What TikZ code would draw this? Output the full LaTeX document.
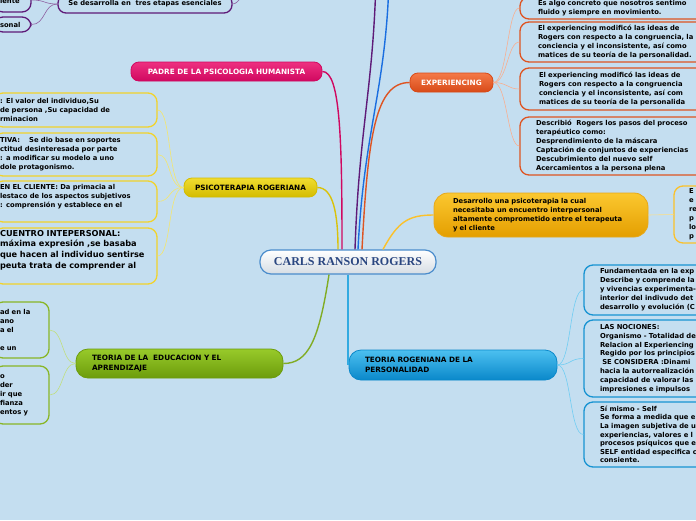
\documentclass[tikz,border=0pt]{standalone}
\usepackage{fontspec}
\newfontfamily\mapfont{DejaVu Sans}
\newfontfamily\titlefont{Liberation Serif}
\newcommand\leaffont{\mapfont\bfseries\fontsize{6.8}{9}\selectfont}
\newcommand\capsfont{\mapfont\bfseries\fontsize{7.3}{9.5}\selectfont}
\newcommand\bigleaffont{\mapfont\bfseries\fontsize{8.2}{10.7}\selectfont}

\definecolor{bgblue}{HTML}{C4DEF0}
\definecolor{rootline}{HTML}{4A8CCC}
\definecolor{rootgrey}{HTML}{D6DDE4}
\definecolor{titleblue}{HTML}{2A4680}
\definecolor{pinktop}{HTML}{EE3080}
\definecolor{pinkbot}{HTML}{D00860}
\definecolor{yeltop}{HTML}{F0DC30}
\definecolor{yelbot}{HTML}{D4BC00}
\definecolor{ortop}{HTML}{F47A48}
\definecolor{orbot}{HTML}{D84A18}
\definecolor{goldtop}{HTML}{FBC830}
\definecolor{goldbot}{HTML}{E49E00}
\definecolor{greentop}{HTML}{98CA2A}
\definecolor{greenbot}{HTML}{6C9C0C}
\definecolor{bluetop}{HTML}{4CC0F0}
\definecolor{bluebot}{HTML}{0A88CA}
\definecolor{purp}{HTML}{5E1A78}
\definecolor{bluebranch}{HTML}{1A6EE0}

\begin{document}
\begin{tikzpicture}[x=1pt,y=-1pt,
  topic/.style={rounded corners=8pt, line width=0.8pt, minimum height=19pt,
    font=\capsfont, inner sep=0pt},
  leaf/.style={draw=#1, line width=1.3pt, rounded corners=9pt, align=left,
    inner xsep=6pt, inner ysep=0pt, font=\leaffont},
  mainline/.style={draw=#1, line width=1.4pt},
  thinline/.style={draw=#1, line width=0.6pt}]

  \useasboundingbox (0,0) rectangle (696,520);
  \fill[bgblue] (0,0) rectangle (696,520);
  \clip (0,0) rectangle (696,520);

  % centre
  \node[draw=rootline, line width=1.2pt, rounded corners=11pt, top color=white,
    bottom color=rootgrey, minimum width=176pt, minimum height=24pt,
    font=\titlefont\bfseries\fontsize{12}{14}\selectfont, text=titleblue]
    (root) at (348,262) {CARLS RANSON ROGERS};

  % main topics
  \node[topic, draw=pinkbot, top color=pinktop, bottom color=pinkbot, text=white,
    minimum width=191pt] (padre) at (226.5,71.5) {PADRE DE LA PSICOLOGIA HUMANISTA};
  \node[topic, draw=yelbot, top color=yeltop, bottom color=yelbot,
    minimum width=133pt] (psico) at (250.5,187.5) {PSICOTERAPIA ROGERIANA};
  \node[topic, draw=orbot, top color=ortop, bottom color=orbot, text=white,
    minimum width=83pt] (exper) at (451.5,82.5) {EXPERIENCING};
  \node[topic, draw=goldbot!90, top color=goldtop, bottom color=goldbot,
    rounded corners=14pt, minimum width=214pt, minimum height=44pt, font=\leaffont,
    text width=176pt, align=left] (desarrollo) at (541,215)
    {Desarrollo una psicoterapia la cual\\necesitaba un encuentro interpersonal\\altamente comprometido entre el terapeuta\\y el cliente};
  \node[topic, draw=bluebot, top color=bluetop, bottom color=bluebot,
    rounded corners=12pt, minimum width=208pt, minimum height=30pt,
    text width=176pt, align=left] (teoriaP) at (453,365)
    {TEORIA ROGENIANA DE LA\\PERSONALIDAD};
  \node[topic, draw=greenbot, top color=greentop, bottom color=greenbot,
    rounded corners=12pt, minimum width=207pt, minimum height=29pt,
    text width=175pt, align=left] (teoriaE) at (179.5,363.5)
    {TEORIA DE LA\ \ EDUCACION Y EL\\APRENDIZAJE};
  \node[topic, draw=purp, line width=1.3pt, minimum width=174pt, minimum height=18pt,
    font=\leaffont] (etapas) at (145,4) {Se desarrolla en\ \ tres etapas esenciales};
  \coordinate (upE) at (246,-12);
  \coordinate (upP) at (376,-20);
  \coordinate (upB) at (389,-20);

  % purple leaves
  \node[leaf=purp, text width=25pt, minimum height=24pt] (pl1) at (12.5,0) {\\[-1pt]lente};
  \node[leaf=purp, text width=25pt, minimum height=15pt] (pl2) at (12.5,24.5) {sonal};

  % psicoterapia leaves
  \node[leaf=yeltop!90!orange, text width=151pt, minimum height=34pt] (ps1) at (75.5,110)
    {: El valor del individuo,Su\\de persona ,Su capacidad de\\rminacion};
  \node[leaf=yeltop!90!orange, text width=151pt, minimum height=43pt] (ps2) at (75.5,154.5)
    {TIVA:\ \ \ \ Se dio base en soportes\\ctitud desinteresada por parte\\: a modificar su modelo a uno\\dole protagonismo.};
  \node[leaf=yeltop!90!orange, text width=151pt, minimum height=41pt] (ps3) at (75.5,201.5)
    {EN EL CLIENTE: Da primacia al\\lestaco de los aspectos subjetivos\\: comprensión y establece en el\\\strut};
  \node[leaf=yeltop!90!orange, text width=151pt, minimum height=56pt, font=\bigleaffont]
    (ps4) at (75.5,256)
    {CUENTRO INTEPERSONAL:\\ máxima expresión ,se basaba\\que hacen al individuo sentirse\\peuta trata de comprender al\\\strut};

  % experiencing leaves
  \node[leaf=orbot!80!ortop, inner xsep=18pt, text width=190pt, minimum height=22pt]
    (ex1) at (633,8) {Es algo concreto que nosotros sentimo\\fluido y siempre en movimiento.};
  \node[leaf=orbot!80!ortop, inner xsep=18pt, text width=190pt, minimum height=40pt]
    (ex2) at (633,42) {El experiencing modificó las ideas de\\Rogers con respecto a la congruencia, la\\conciencia y el inconsistente, así como\\matices de su teoría de la personalidad.};
  \node[leaf=orbot!80!ortop, inner xsep=19pt, text width=190pt, minimum height=42pt]
    (ex3) at (634,89) {El experiencing modificó las ideas de\\Rogers con respecto a la congruencia\\conciencia y el inconsistente, así com\\matices de su teoría de la personalida};
  \node[leaf=orbot!80!ortop, inner xsep=16pt, text width=190pt, minimum height=58pt]
    (ex4) at (631,146) {Describió\ \ Rogers los pasos del proceso\\terapéutico como:\\Desprendimiento de la máscara\\Captación de conjuntos de experiencias\\Descubrimiento del nuevo self\\Acercamientos a la persona plena};

  % desarrollo leaf
  \node[leaf=goldtop!90!orange, inner xsep=15pt, text width=40pt, minimum height=57pt]
    (gc) at (709,214.5) {E\\e\\re\\p\\lo\\p};

  % teoria personalidad leaves
  \node[leaf=bluebot!80!bluetop, inner xsep=16pt, text width=150pt, minimum height=50pt]
    (tp1) at (675,290) {Fundamentada en la exp\\Describe y comprende la\\y vivencias experimenta-\\interior del indivudo det\\desarrollo y evolución (C};
  \node[leaf=bluebot!80!bluetop, inner xsep=16pt, text width=150pt, minimum height=77pt,
    font=\mapfont\bfseries\fontsize{6.8}{8.8}\selectfont]
    (tp2) at (675,358.5) {LAS NOCIONES:\\Organismo - Totalidad de\\Relacion al Experiencing\\Regido por los principios\\\ SE CONSIDERA :Dinami\\hacia la autorrealización\\capacidad de valorar las\\impresiones e impulsos};
  \node[leaf=bluebot!80!bluetop, inner xsep=16pt, text width=150pt, minimum height=65pt,
    font=\mapfont\bfseries\fontsize{6.8}{8.6}\selectfont]
    (tp3) at (675,434.5) {Sí mismo - Self\\Se forma a medida que e\\La imagen subjetiva de u\\experiencias, valores e l\\procesos psíquicos que e\\SELF entidad especifica c\\consiente.};

  % educacion leaves
  \node[leaf=greentop!90!black, text width=43pt, minimum height=56pt] (ed1) at (21.5,330)
    {ad en la\\ano\\a el\\\strut\\e un};
  \node[leaf=greentop!90!black, text width=43pt, minimum height=58pt] (ed2) at (21.5,395)
    {o\\der\\ir que\\fianza\\entos y};

  % main branches
  \draw[mainline=pinkbot] (padre.east) .. controls +(18,0) and +(0,-110) .. ([xshift=-6pt]root.north);
  \draw[mainline=yelbot!80!yeltop] (psico.east) .. controls +(16,0) and +(0,-35) .. ([xshift=-10pt]root.north);
  \draw[mainline=purp] ([xshift=7pt]root.north) .. controls +(4,-120) and +(-3,110) .. (upP);
  \draw[mainline=bluebranch] ([xshift=10pt]root.north) .. controls +(6,-120) and +(-3,110) .. (upB);
  \draw[mainline=orbot!80!ortop] ([xshift=14pt]root.north) .. controls +(6,-115) and +(-34,0) .. (exper.west);
  \draw[mainline=goldtop!90!orange] ([xshift=35pt]root.north) .. controls +(15,-28) and +(-25,0) .. (desarrollo.west);
  \draw[mainline=greentop!85!black] ([xshift=-19pt]root.south) .. controls +(-10,65) and +(25,0) .. (teoriaE.east);
  \draw[mainline=bluetop!60!bluebot] (root.south) -- (root.south |- teoriaP.west);

  % leaf connectors
  \draw[thinline=purp!70] (etapas.east) .. controls +(6,0) and +(-2,4) .. (upE);
  \draw[thinline=purp!70] (etapas.west) .. controls +(-14,0) and +(14,0) .. (pl1.east);
  \draw[thinline=purp!70] (etapas.west) .. controls +(-14,0) and +(14,0) .. (pl2.east);

  \draw[thinline=yeltop!70] (psico.west) .. controls +(-16,0) and +(14,0) .. (ps1.east);
  \draw[thinline=yeltop!70] (psico.west) .. controls +(-16,0) and +(14,0) .. (ps2.east);
  \draw[thinline=yeltop!70] (psico.west) .. controls +(-16,0) and +(14,0) .. (ps3.east);
  \draw[thinline=yeltop!70] (psico.west) .. controls +(-16,0) and +(14,0) .. (ps4.east);

  \draw[thinline=ortop!60] (exper.east) .. controls +(14,0) and +(-12,0) .. (ex1.west);
  \draw[thinline=ortop!60] (exper.east) .. controls +(14,0) and +(-12,0) .. (ex2.west);
  \draw[thinline=ortop!60] (exper.east) .. controls +(14,0) and +(-12,0) .. (ex3.west);
  \draw[thinline=ortop!60] (exper.east) .. controls +(14,0) and +(-12,0) .. (ex4.west);

  \draw[thinline=goldtop!60] (desarrollo.east) -- (gc.west);

  \draw[thinline=bluetop!80] (teoriaP.east) .. controls +(14,0) and +(-14,0) .. (tp1.west);
  \draw[thinline=bluetop!80] (teoriaP.east) .. controls +(14,0) and +(-14,0) .. (tp2.west);
  \draw[thinline=bluetop!80] (teoriaP.east) .. controls +(14,0) and +(-14,0) .. (tp3.west);

  \draw[thinline=greentop!60] (teoriaE.west) .. controls +(-14,0) and +(14,0) .. (ed1.east);
  \draw[thinline=greentop!60] (teoriaE.west) .. controls +(-14,0) and +(14,0) .. (ed2.east);
\end{tikzpicture}
\end{document}
